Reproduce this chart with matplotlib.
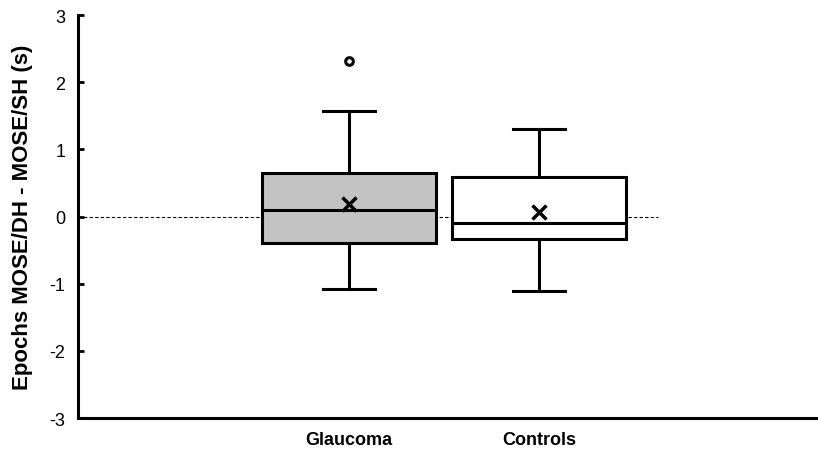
import matplotlib
matplotlib.use("Agg")
from matplotlib import pyplot as plt

plt.rcParams['font.family'] = ['Liberation Sans', 'DejaVu Sans']

# values
groups = ["Glaucoma", "Controls"]
medians = [0.09, -0.09]
q1s = [-0.40, -0.33]
q3s = [0.65, 0.59]
whis_lo = [-1.08, -1.11]
whis_hi = [1.57, 1.30]
means = [0.19, 0.07]
outliers = [[2.31], []]
fills = ["#c3c3c3", "white"]

stats = []
for i in range(len(groups)):
    stats.append(dict(label=groups[i], med=medians[i], q1=q1s[i], q3=q3s[i],
                      whislo=whis_lo[i], whishi=whis_hi[i], mean=means[i],
                      fliers=outliers[i]))

fig = plt.figure(figsize=(8.18, 4.52), dpi=100)
ax = fig.add_axes([0.0954, 0.073, 0.9026, 0.8916])

lw = 2.2
bp = ax.bxp(stats, positions=[1.557, 2.649], widths=1.0, showmeans=True,
            patch_artist=True,
            boxprops=dict(linewidth=lw, edgecolor="black"),
            medianprops=dict(color="black", linewidth=lw),
            whiskerprops=dict(color="black", linewidth=lw),
            capprops=dict(color="black", linewidth=lw),
            capwidths=0.3,
            meanprops=dict(marker="x", markeredgecolor="black", markersize=10,
                           markeredgewidth=2.5),
            flierprops=dict(marker="o", markerfacecolor="white",
                            markeredgecolor="black", markersize=5.5,
                            markeredgewidth=2.2))
for patch, c in zip(bp["boxes"], fills):
    patch.set_facecolor(c)

# zero reference line
ax.plot([0, 3.33], [0, 0], color="black", linestyle=(0, (3, 2)), linewidth=0.8,
        zorder=0)

ax.set_xlim(0, 4.241)
ax.set_ylim(-3, 3)
ax.set_yticks([-3, -2, -1, 0, 1, 2, 3])
ax.set_yticklabels(["-3", "-2", "-1", "0", "1", "2", "3"])
ax.set_xticks([1.557, 2.649])
ax.set_xticklabels(groups, fontsize=13, fontweight="bold")
ax.tick_params(axis="x", length=0, pad=9)
ax.tick_params(axis="y", direction="in", length=4, width=2, labelsize=13,
               pad=9)
ax.spines["top"].set_visible(False)
ax.spines["right"].set_visible(False)
ax.spines["left"].set_linewidth(2.2)
ax.spines["bottom"].set_linewidth(2.2)
ax.set_ylabel("Epochs MOSE/DH - MOSE/SH (s)", fontsize=16, fontweight="bold",
              labelpad=12)

fig.savefig("out.png", dpi=100)
